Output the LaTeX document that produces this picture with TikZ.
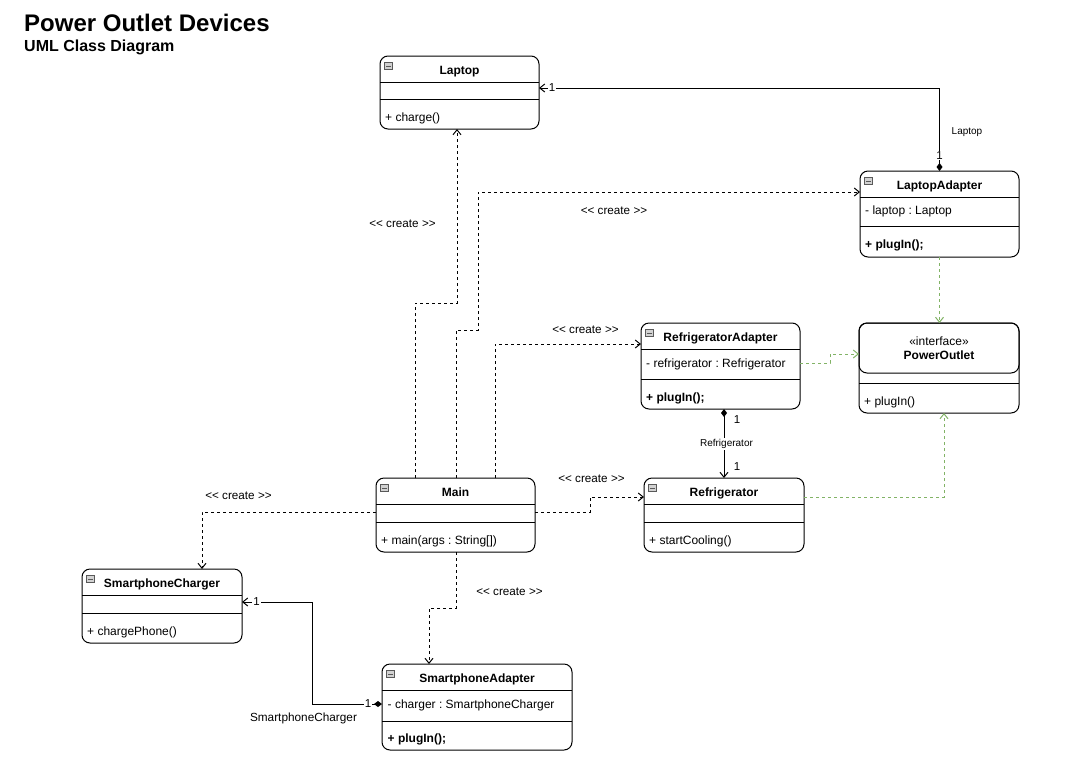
\documentclass[tikz,border=0pt]{standalone}
\usepackage{fontspec}
\setmainfont{Liberation Sans}
\usetikzlibrary{arrows.meta,calc}
\definecolor{greenline}{HTML}{82B366}
\frenchspacing
\begin{document}
\frenchspacing
\begin{tikzpicture}[x=1pt,y=-1pt,
  cls/.style={draw=black, line width=1pt, rounded corners=8pt, fill=white, anchor=north west, inner sep=0pt, outer sep=0pt},
  sepline/.style={line width=1pt},
  cname/.style={font=\fontsize{12}{14}\selectfont\bfseries, anchor=base, inner sep=0pt},
  member/.style={font=\fontsize{12}{14}\selectfont, anchor=base west, inner sep=0pt},
  mbold/.style={anchor=base west, inner sep=0pt, font=\fontsize{12}{14}\selectfont\bfseries},
  icon/.style={draw=gray!70!black, fill=gray!35, minimum size=7.5pt, inner sep=0pt, line width=0.6pt,
    path picture={\draw[line width=0.8pt] ([xshift=1.5pt]path picture bounding box.west) -- ([xshift=-1.5pt]path picture bounding box.east);}},
  create/.style={draw=black, line width=1pt, dash pattern=on 3pt off 3pt, -{Straight Barb[length=5pt,width=8pt]}},
  real/.style={draw=greenline, line width=1pt, dash pattern=on 3pt off 3pt, -{Straight Barb[length=5pt,width=8pt]}},
  assoc/.style={draw=black, line width=1pt, {Diamond[length=8pt,width=6pt]}-{Straight Barb[length=5pt,width=8pt]}},
  lbl/.style={font=\fontsize{11.7}{13}\selectfont, inner sep=0pt},
  small/.style={font=\fontsize{10}{12}\selectfont, inner sep=1pt},
  mult/.style={font=\fontsize{11.5}{13}\selectfont, inner sep=1pt, fill=white},
]
\fill[white] (0,0) rectangle (1072,772);
\useasboundingbox (0,0) rectangle (1072,772);

% title
\node[anchor=base west, inner sep=0pt, font=\fontsize{24}{28}\selectfont\bfseries] (title) at (24,31) {Power Outlet Devices};
\node[anchor=base west, inner sep=0pt, font=\fontsize{16}{19}\selectfont\bfseries] (subtitle) at (24,51.5) {UML Class Diagram};

% ---------- classes ----------
% Laptop
\node[cls, minimum width=159pt, minimum height=73pt] (laptop) at (380,56) {};
\draw[sepline] (laptop.west |- 0,82) -- (laptop.east |- 0,82);
\draw[sepline] (laptop.west |- 0,99) -- (laptop.east |- 0,99);
\node[icon] (laptopicon) at ($(laptop.north west)+(8.5,10)$) {};
\node[cname] (laptopname) at (laptop.north |- 0,74) {Laptop};
\node[member] (laptopm) at (385,121.5) {+ charge()};

% LaptopAdapter
\node[cls, minimum width=159pt, minimum height=86pt] (laptopadapter) at (860,171) {};
\draw[sepline] (laptopadapter.west |- 0,197) -- (laptopadapter.east |- 0,197);
\draw[sepline] (laptopadapter.west |- 0,226) -- (laptopadapter.east |- 0,226);
\node[icon] (laicon) at ($(laptopadapter.north west)+(8.5,10)$) {};
\node[cname] (laname) at (laptopadapter.north |- 0,189) {LaptopAdapter};
\node[member] (laattr) at (865,214.5) {- laptop : Laptop};
\node[mbold] (lameth) at (865,248.5) {+ plugIn();};

% RefrigeratorAdapter
\node[cls, minimum width=159pt, minimum height=86pt] (refadapter) at (641,323) {};
\draw[sepline] (refadapter.west |- 0,349) -- (refadapter.east |- 0,349);
\draw[sepline] (refadapter.west |- 0,379) -- (refadapter.east |- 0,379);
\node[icon] (raicon) at ($(refadapter.north west)+(8.5,10)$) {};
\node[cname] (raname) at (refadapter.north |- 0,341) {RefrigeratorAdapter};
\node[member] (raattr) at (646,367) {- refrigerator : Refrigerator};
\node[mbold] (rameth) at (646,401) {+ plugIn();};

% PowerOutlet
\node[cls, minimum width=160pt, minimum height=90pt] (power) at (859,323) {};
\draw[line width=1pt, rounded corners=8pt] (power.north west) rectangle (power.east |- 0,373);
\draw[sepline] (power.west |- 0,383) -- (power.east |- 0,383);
\node[member, anchor=base] (postereo) at (power.north |- 0,345) {«interface»};
\node[cname] (poname) at (power.north |- 0,359.5) {PowerOutlet};
\node[member] (pometh) at (864,405) {+ plugIn()};

% Refrigerator
\node[cls, minimum width=160pt, minimum height=74pt] (refrigerator) at (644,478) {};
\draw[sepline] (refrigerator.west |- 0,504) -- (refrigerator.east |- 0,504);
\draw[sepline] (refrigerator.west |- 0,522) -- (refrigerator.east |- 0,522);
\node[icon] (reicon) at ($(refrigerator.north west)+(8.5,10)$) {};
\node[cname] (rename) at (refrigerator.north |- 0,496) {Refrigerator};
\node[member] (remeth) at (649,544) {+ startCooling()};

% Main
\node[cls, minimum width=159pt, minimum height=74pt] (main) at (376,478) {};
\draw[sepline] (main.west |- 0,504) -- (main.east |- 0,504);
\draw[sepline] (main.west |- 0,522) -- (main.east |- 0,522);
\node[icon] (maicon) at ($(main.north west)+(8.5,10)$) {};
\node[cname] (maname) at (main.north |- 0,496) {Main};
\node[member] (mameth) at (381,544) {+ main(args : String[])};

% SmartphoneCharger
\node[cls, minimum width=160pt, minimum height=74pt] (charger) at (82,569) {};
\draw[sepline] (charger.west |- 0,595) -- (charger.east |- 0,595);
\draw[sepline] (charger.west |- 0,613) -- (charger.east |- 0,613);
\node[icon] (chicon) at ($(charger.north west)+(8.5,10)$) {};
\node[cname] (chname) at (charger.north |- 0,587) {SmartphoneCharger};
\node[member] (chmeth) at (87,635.5) {+ chargePhone()};

% SmartphoneAdapter
\node[cls, minimum width=190pt, minimum height=86pt] (phoneadapter) at (382,664) {};
\draw[sepline] (phoneadapter.west |- 0,690) -- (phoneadapter.east |- 0,690);
\draw[sepline] (phoneadapter.west |- 0,721) -- (phoneadapter.east |- 0,721);
\node[icon] (paicon) at ($(phoneadapter.north west)+(8.5,10)$) {};
\node[cname] (paname) at (phoneadapter.north |- 0,682) {SmartphoneAdapter};
\node[member] (paattr) at (387.5,708) {- charger : SmartphoneCharger};
\node[mbold] (pameth) at (387.5,742) {+ plugIn();};

% ---------- connectors ----------
% create dependencies
\draw[create] (main.north -| 415,0) -- (415,303) -| (laptop.south -| 457,0);
\draw[create] (main.north -| 456,0) -- (456,330) -| (478,192) -- (laptopadapter.west |- 0,192);
\draw[create] (main.north -| 495,0) |- (refadapter.west |- 0,344);
\draw[create] (main.east |- 0,512) -- (590,512) -- (590,497) -- (refrigerator.west |- 0,497);
\draw[create] (main.west |- 0,512) -| (charger.north -| 202,0);
\draw[create] (main.south -| 456,0) -- (456,608) -| (phoneadapter.north -| 429,0);

\node[lbl] (cl1) at (402.5,223.5) {<{}< create >{}>};
\node[lbl] (cl2) at (614,210.5) {<{}< create >{}>};
\node[lbl] (cl3) at (585.5,329.5) {<{}< create >{}>};
\node[lbl] (cl4) at (591.5,478.5) {<{}< create >{}>};
\node[lbl] (cl5) at (238.5,495.5) {<{}< create >{}>};
\node[lbl] (cl6) at (509.5,591.5) {<{}< create >{}>};

% compositions
\draw[assoc] (laptopadapter.north) |- (laptop.east |- 0,88);
\node[mult] (m1) at (552,87.5) {1};
\node[mult] (m2) at (939.5,155.5) {1};
\node[small] (lapl) at (967,132) {Laptop};

\draw[assoc] (refadapter.south -| 724,0) -- (refrigerator.north -| 724,0);
\node[small, fill=white] (refl) at (726.5,444) {Refrigerator};
\node[mult, fill=none] (m3) at (737,420) {1};
\node[mult, fill=none] (m4) at (737,467) {1};

\draw[assoc] (phoneadapter.west |- 0,704) -| (312,602) -- (charger.east |- 0,602);
\node[mult] (m5) at (256.5,602) {1};
\node[mult] (m6) at (368,703.5) {1};
\node[font=\fontsize{11.8}{14}\selectfont, inner sep=0pt] (chl) at (303.5,718) {SmartphoneCharger};

% realizations
\draw[real] (laptopadapter.south) -- (power.north -| laptopadapter.south);
\draw[real] (refadapter.east |- 0,363) -- (830,363) -- (830,354) -- (power.west |- 0,354);
\draw[real] (refrigerator.east |- 0,497) -| (power.south -| 944,0);
\end{tikzpicture}
\end{document}
